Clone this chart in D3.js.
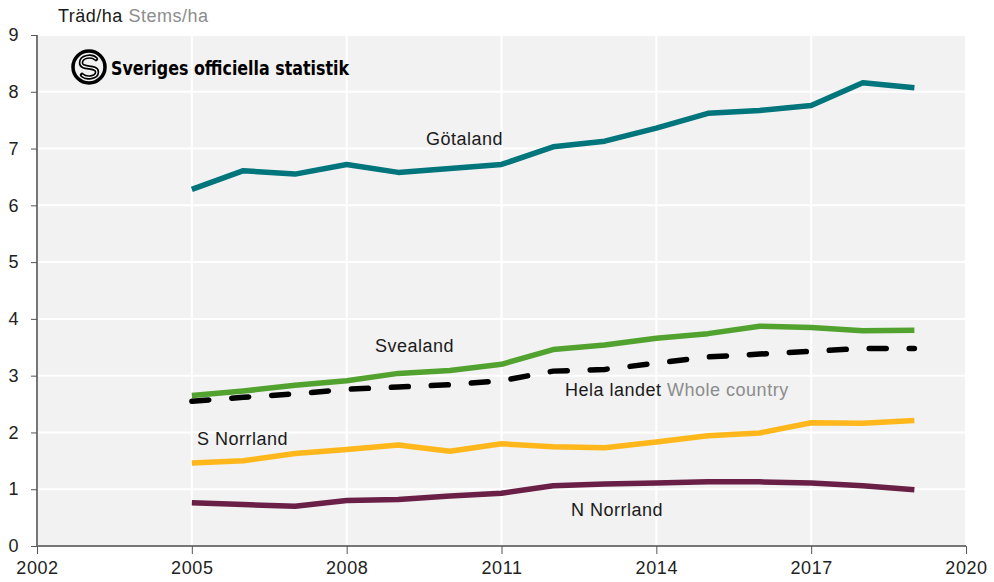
<!DOCTYPE html>
<html><head><meta charset="utf-8">
<script src="https://cdn.jsdelivr.net/npm/d3@7"></script>
<style>body{margin:0;background:#fff}svg{display:block}text{font-family:"Liberation Sans",Arial,sans-serif}</style>
</head><body><svg id="c" width="994" height="582"></svg>
<script>
const years = [2005,2006,2007,2008,2009,2010,2011,2012,2013,2014,2015,2016,2017,2018,2019];
const gotaland  = [6.28,6.61,6.55,6.72,6.58,6.65,6.72,7.03,7.13,7.36,7.62,7.67,7.76,8.16,8.07];
const svealand  = [2.65,2.73,2.83,2.91,3.04,3.09,3.20,3.46,3.54,3.66,3.74,3.87,3.85,3.79,3.80];
const helaLandet= [2.55,2.62,2.68,2.76,2.80,2.84,2.91,3.08,3.11,3.22,3.33,3.38,3.43,3.48,3.48];
const sNorrland = [1.46,1.50,1.63,1.70,1.78,1.67,1.80,1.75,1.73,1.83,1.94,1.99,2.17,2.16,2.21];
const nNorrland = [0.76,0.73,0.70,0.80,0.82,0.88,0.93,1.06,1.09,1.11,1.13,1.13,1.11,1.06,0.99];
const xTicks = [2002,2005,2008,2011,2014,2017,2020];
const yTicks = [0,1,2,3,4,5,6,7,8,9];

const svg = d3.select("#c");
const L=37,R=966,T=35,B=546;
const x = d3.scaleLinear().domain([2002,2020]).range([L,R]);
const y = d3.scaleLinear().domain([0,9]).range([B,T]);

svg.append("rect").attr("x",L).attr("y",T).attr("width",R-L).attr("height",B-T).attr("fill","#f2f2f2");
svg.append("g").selectAll("line").data(yTicks.filter(d=>d>0)).join("line")
  .attr("x1",L).attr("x2",R).attr("y1",d=>y(d)).attr("y2",d=>y(d)).attr("stroke","#fff").attr("stroke-width",2);
svg.append("g").selectAll("line").data(xTicks.slice(1)).join("line")
  .attr("y1",T).attr("y2",B).attr("x1",d=>x(d)).attr("x2",d=>x(d)).attr("stroke","#fff").attr("stroke-width",2);

const yAxis = svg.append("g").attr("transform",`translate(${L},0)`)
  .call(d3.axisLeft(y).tickValues(yTicks).tickSize(6).tickPadding(12).tickFormat(d3.format("d")));
const xAxis = svg.append("g").attr("transform",`translate(0,${B})`)
  .call(d3.axisBottom(x).tickValues(xTicks).tickSize(8).tickPadding(7).tickFormat(d3.format("d")));
[yAxis,xAxis].forEach(g=>{
  g.select(".domain").attr("stroke","#777").attr("stroke-width",2);
  g.selectAll(".tick line").attr("stroke","#555");
  g.selectAll("text").attr("fill","#222").style("font-size","18px").style("letter-spacing","0.6px")
   .style("font-family","Liberation Sans, Arial, sans-serif");
});
yAxis.select(".domain").attr("d",`M0,${T}V${B}`);
xAxis.select(".domain").attr("d",`M${L},0H${R}`);

const line = d3.line().x((d,i)=>x(years[i])).y(d=>y(d));
const series = [
  {v:gotaland,c:"#00757c"},
  {v:svealand,c:"#52a22f"},
  {v:sNorrland,c:"#ffb71b"},
  {v:nNorrland,c:"#691f46"},
];
series.forEach(s=>svg.append("path").attr("d",line(s.v)).attr("fill","none")
  .attr("stroke",s.c).attr("stroke-width",5.5).attr("stroke-linejoin","round"));
svg.append("path").attr("d",line(helaLandet)).attr("fill","none").attr("stroke","#000")
  .attr("stroke-width",5.5).attr("stroke-dasharray","17,23").attr("stroke-linecap","round");

const lab = (t,xx,yy,extra)=>{
  const te = svg.append("text").attr("x",xx).attr("y",yy).style("font-size","18px")
    .style("letter-spacing","0.5px").attr("fill","#1a1a1a").text(t);
  if(extra) te.append("tspan").attr("fill","#8c8c8c").text(extra);
};
lab("Götaland",426,145);
lab("Svealand",375,352);
lab("S Norrland",197,445);
lab("Hela landet ",565,396,"Whole country");
lab("N Norrland",571,516);

svg.append("text").attr("x",58).attr("y",22).style("font-size","18px").style("letter-spacing","0.5px").attr("fill","#1a1a1a")
  .text("Träd/ha ").append("tspan").attr("fill","#8c8c8c").text("Stems/ha");

// logo
const lg = svg.append("g").attr("transform","translate(89,67)");
lg.append("circle").attr("r",16).attr("fill","none").attr("stroke","#000").attr("stroke-width",3.5);
lg.append("path").attr("d","M7,-8 C3,-12 -8,-11 -8,-4 C-8,3 8,-2 8,5 C8,11 -3,12 -7,8")
  .attr("fill","none").attr("stroke","#000").attr("stroke-width",4.5).attr("stroke-linecap","round");
lg.append("path").attr("d","M7,-8 C3,-12 -8,-11 -8,-4 C-8,3 8,-2 8,5 C8,11 -3,12 -7,8")
  .attr("fill","none").attr("stroke","#fff").attr("stroke-width",1.2);
svg.append("text").attr("x",111).attr("y",75).style("font-size","20px").style("font-weight","bold")
  .style("font-family","'DejaVu Sans Condensed','DejaVu Sans',sans-serif").attr("fill","#000")
  .attr("textLength",238).attr("lengthAdjust","spacingAndGlyphs").text("Sveriges officiella statistik");
</script></body></html>
